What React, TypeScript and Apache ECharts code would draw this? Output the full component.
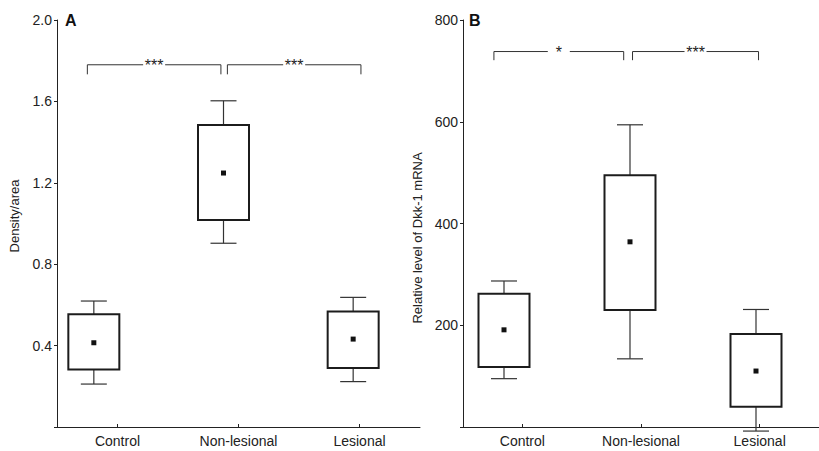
import React, { useEffect, useRef } from 'react';
import * as echarts from 'echarts';

const categories = ['Control', 'Non-lesional', 'Lesional'];

// Panel A: Density/area
const densityMin = [0.211, 0.903, 0.223];
const densityQ1 = [0.282, 1.017, 0.29];
const densityMedian = [0.414, 1.248, 0.432];
const densityQ3 = [0.554, 1.484, 0.567];
const densityMax = [0.619, 1.603, 0.637];

// Panel B: Relative level of Dkk-1 mRNA
const mrnaMin = [95, 134, -8];
const mrnaQ1 = [118, 230, 40];
const mrnaMedian = [191, 364, 110];
const mrnaQ3 = [262, 495, 183];
const mrnaMax = [287, 594, 231];

// significance brackets: [from, to, dropEnd, line level]
const densityBrackets = [
  [-0.05, 0.98, 1.733, 1.78],
  [1.03, 2.06, 1.733, 1.78],
];
const densityStars = ['***', '***'];
const mrnaBrackets = [
  [-0.08, 0.95, 721, 738],
  [1.02, 2.02, 721, 738],
];
const mrnaStars = ['*', '***'];

const FONT = 'Liberation Sans, Arial, Helvetica, sans-serif';
const INK = '#222';

function boxRender(params: any, api: any) {
  const x = api.value(0);
  const cx = api.coord([x, api.value(1)])[0];
  const yMin = api.coord([x, api.value(1)])[1];
  const yQ1 = api.coord([x, api.value(2)])[1];
  const yMed = api.coord([x, api.value(3)])[1];
  const yQ3 = api.coord([x, api.value(4)])[1];
  const yMax = api.coord([x, api.value(5)])[1];
  const bw = 51;
  const cw = 26;
  const wStyle = { stroke: '#333', lineWidth: 1.2 };
  return {
    type: 'group',
    children: [
      { type: 'line', shape: { x1: cx, y1: yMax, x2: cx, y2: yQ3 }, style: wStyle },
      { type: 'line', shape: { x1: cx, y1: yQ1, x2: cx, y2: yMin }, style: wStyle },
      { type: 'line', shape: { x1: cx - cw / 2, y1: yMax, x2: cx + cw / 2, y2: yMax }, style: wStyle },
      { type: 'line', shape: { x1: cx - cw / 2, y1: yMin, x2: cx + cw / 2, y2: yMin }, style: wStyle },
      {
        type: 'rect',
        shape: { x: cx - bw / 2, y: yQ3, width: bw, height: yQ1 - yQ3 },
        style: { fill: '#fff', stroke: '#1c1c1c', lineWidth: 2 },
      },
      {
        type: 'rect',
        shape: { x: cx - 2.5, y: yMed - 2.5, width: 5, height: 5 },
        style: { fill: '#111' },
      },
    ],
  };
}

function bracketRender(labels: string[]) {
  return (params: any, api: any) => {
    const p1 = api.coord([api.value(0), api.value(3)]);
    const p2 = api.coord([api.value(1), api.value(2)]);
    const x1 = p1[0];
    const yLine = p1[1];
    const x2 = p2[0];
    const yDrop = p2[1];
    const mid = (x1 + x2) / 2;
    const gap = 11;
    const ls = { stroke: '#333', lineWidth: 1, fill: 'none' };
    return {
      type: 'group',
      children: [
        { type: 'polyline', shape: { points: [[x1, yDrop], [x1, yLine], [mid - gap, yLine]] }, style: ls },
        { type: 'polyline', shape: { points: [[mid + gap, yLine], [x2, yLine], [x2, yDrop]] }, style: ls },
        {
          type: 'text',
          x: mid,
          y: yLine + 1,
          style: {
            text: labels[params.dataIndex],
            fill: '#222',
            fontSize: 16,
            fontFamily: FONT,
            align: 'center',
            verticalAlign: 'middle',
          },
        },
      ],
    };
  };
}

function catAxis(gridIndex: number) {
  return {
    type: 'category',
    gridIndex,
    data: categories,
    boundaryGap: true,
    axisLine: { show: true, lineStyle: { color: INK, width: 1 } },
    axisTick: { show: true, inside: true, length: 3, alignWithLabel: true, lineStyle: { color: INK } },
    axisLabel: { color: INK, fontSize: 14, fontFamily: FONT, margin: 7 },
    splitLine: { show: false },
  };
}

function hiddenX(gridIndex: number) {
  return { type: 'value', gridIndex, min: -0.5, max: 2.5, show: false };
}

export default function App() {
  const ref = useRef<HTMLDivElement>(null);
  useEffect(() => {
    if (!ref.current) return;
    const chart = echarts.init(ref.current, null, { renderer: 'svg' });
    const densityData = categories.map((_, i) => [
      i, densityMin[i], densityQ1[i], densityMedian[i], densityQ3[i], densityMax[i],
    ]);
    const mrnaData = categories.map((_, i) => [
      i, mrnaMin[i], mrnaQ1[i], mrnaMedian[i], mrnaQ3[i], mrnaMax[i],
    ]);
    chart.setOption({
      animation: false,
      backgroundColor: '#fff',
      color: ['#222'],
      textStyle: { fontFamily: FONT },
      grid: [
        { left: 57, top: 20, width: 363, bottom: 24 },
        { left: 29, top: 20, width: 389, bottom: 24 },
        { left: 463, top: 20, width: 363, bottom: 24 },
        { left: 441, top: 20, width: 389, bottom: 24 },
      ],
      xAxis: [catAxis(0), hiddenX(1), catAxis(2), hiddenX(3)],
      yAxis: [
        {
          type: 'value',
          gridIndex: 0,
          min: 0,
          max: 2,
          interval: 0.4,
          axisLine: { show: true, lineStyle: { color: INK } },
          axisTick: { show: true, length: 3, lineStyle: { color: INK } },
          axisLabel: {
            color: INK,
            fontSize: 14,
            fontFamily: FONT,
            margin: 5,
            formatter: (v: number) => (v === 0 ? '' : v.toFixed(1)),
          },
          splitLine: { show: false },
        },
        { type: 'value', gridIndex: 1, min: 0, max: 2, show: false },
        {
          type: 'value',
          gridIndex: 2,
          min: 0,
          max: 800,
          interval: 200,
          axisLine: { show: true, lineStyle: { color: INK } },
          axisTick: { show: true, length: 3, lineStyle: { color: INK } },
          axisLabel: {
            color: INK,
            fontSize: 14,
            fontFamily: FONT,
            margin: 5,
            formatter: (v: number) => (v === 0 ? '' : String(v)),
          },
          splitLine: { show: false },
        },
        { type: 'value', gridIndex: 3, min: 0, max: 800, show: false },
      ],
      graphic: [
        { type: 'text', left: 65, top: 12, style: { text: 'A', fontSize: 16, fontWeight: 'bold', fill: '#111', fontFamily: FONT } },
        { type: 'text', left: 469, top: 12, style: { text: 'B', fontSize: 16, fontWeight: 'bold', fill: '#111', fontFamily: FONT } },
        {
          type: 'text',
          x: 14,
          y: 216,
          rotation: Math.PI / 2,
          style: { text: 'Density/area', fontSize: 13, fill: INK, fontFamily: FONT, align: 'center', verticalAlign: 'middle' },
        },
        {
          type: 'text',
          x: 417,
          y: 238,
          rotation: Math.PI / 2,
          style: { text: 'Relative level of Dkk-1 mRNA', fontSize: 13, fill: INK, fontFamily: FONT, align: 'center', verticalAlign: 'middle' },
        },
      ],
      series: [
        {
          type: 'custom',
          name: 'Density boxes',
          xAxisIndex: 1,
          yAxisIndex: 1,
          itemStyle: { color: '#222' },
          renderItem: boxRender,
          encode: { x: 0, y: [1, 2, 3, 4, 5] },
          data: densityData,
        },
        {
          type: 'custom',
          name: 'Density brackets',
          xAxisIndex: 1,
          yAxisIndex: 1,
          itemStyle: { color: '#222' },
          renderItem: bracketRender(densityStars),
          encode: { x: [0, 1], y: [2, 3] },
          data: densityBrackets,
        },
        {
          type: 'custom',
          name: 'mRNA boxes',
          xAxisIndex: 3,
          yAxisIndex: 3,
          itemStyle: { color: '#222' },
          renderItem: boxRender,
          encode: { x: 0, y: [1, 2, 3, 4, 5] },
          data: mrnaData,
        },
        {
          type: 'custom',
          name: 'mRNA brackets',
          xAxisIndex: 3,
          yAxisIndex: 3,
          itemStyle: { color: '#222' },
          renderItem: bracketRender(mrnaStars),
          encode: { x: [0, 1], y: [2, 3] },
          data: mrnaBrackets,
        },
      ],
    });
    return () => chart.dispose();
  }, []);
  return (
    <div
      ref={ref}
      style={{ position: 'fixed', left: 0, top: 0, width: 819, height: 451, background: '#fff' }}
    />
  );
}
